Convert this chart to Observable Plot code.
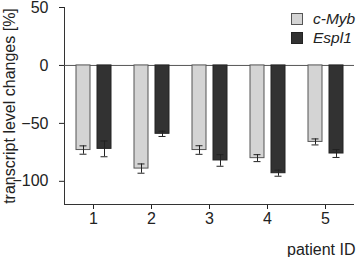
<!DOCTYPE html>
<html><head><meta charset="utf-8">
<script src="https://cdn.jsdelivr.net/npm/d3@7"></script>
<script src="https://cdn.jsdelivr.net/npm/@observablehq/plot@0.6"></script>
<style>
body{margin:0;background:#fff;}
#wrap{position:relative;width:358px;height:257px;font-family:"Liberation Sans",Arial,sans-serif;color:#222;}
.legend{position:absolute;left:291px;top:9px;font-size:15.5px;font-style:italic;}
.legend .row{display:flex;align-items:center;height:19px;}
.legend .sw{width:10px;height:10px;margin-right:10px;border:1px solid #666;}
</style></head><body><div id="wrap"></div>
<script>
const patients = [1, 2, 3, 4, 5];
const genes = ["c-Myb", "Espl1"];
const cMyb = [-73, -89, -73, -80, -66];
const cMybErr = [3.6, 4, 3.7, 3, 2.6];
const espl1 = [-72, -59, -82, -93, -76];
const espl1Err = [6.8, 2.3, 5, 2.6, 3.4];
const yTicks = [50, 0, -50, -100];
const geneFill = ["#d4d4d4", "#323232"];
const geneStroke = ["#555555", "#222222"];

const rows = [];
patients.forEach((p, i) => {
  rows.push({patient: p, gene: genes[0], value: cMyb[i], err: cMybErr[i]});
  rows.push({patient: p, gene: genes[1], value: espl1[i], err: espl1Err[i]});
});

const chart = Plot.plot({
  width: 358,
  height: 257,
  marginTop: 7,
  marginBottom: 53,
  marginLeft: 62,
  marginRight: 2,
  style: {fontSize: "16px", fontFamily: "Liberation Sans, Arial, sans-serif", color: "#222", background: "white"},
  fx: {domain: patients, padding: 0},
  x: {domain: genes, paddingInner: 0.34, paddingOuter: 0.49, axis: null},
  y: {domain: [-120, 50]},
  color: {domain: genes, range: geneFill},
  marks: [
    Plot.axisY({ticks: yTicks, tickSize: 5, tickPadding: 11, fontSize: 16, label: "transcript level changes [%]", labelAnchor: "center", labelOffset: 61, labelArrow: false}),
    Plot.axisFx({anchor: "bottom", tickSize: 5, tickPadding: 3, fontSize: 16, label: "patient ID", labelAnchor: "right", labelOffset: 50, labelArrow: false}),
    Plot.frame({anchor: "left", facetAnchor: "left", stroke: "#333"}),
    Plot.ruleY([0], {stroke: "#555", strokeWidth: 1}),
    Plot.ruleY([-120], {stroke: "#333", strokeWidth: 1}),
    Plot.barY(rows, {fx: "patient", x: "gene", y: "value", fill: "gene", stroke: (d) => geneStroke[genes.indexOf(d.gene)], strokeWidth: 1}),
    Plot.ruleX(rows, {fx: "patient", x: "gene", y1: (d) => d.value - d.err, y2: (d) => d.value + d.err, stroke: "#222", strokeWidth: 1}),
    Plot.tickY(rows, {fx: "patient", x: "gene", y: (d) => d.value - d.err, stroke: "#222", insetLeft: 3.5, insetRight: 3.5}),
    Plot.tickY(rows, {fx: "patient", x: "gene", y: (d) => d.value + d.err, stroke: "#222", insetLeft: 3.5, insetRight: 3.5})
  ]
});

const wrap = document.getElementById("wrap");
wrap.appendChild(chart);
const legend = document.createElement("div");
legend.className = "legend";
genes.forEach((g, i) => {
  const row = document.createElement("div");
  row.className = "row";
  const sw = document.createElement("span");
  sw.className = "sw";
  sw.style.background = geneFill[i];
  sw.style.borderColor = geneStroke[i];
  const t = document.createElement("span");
  t.textContent = g;
  row.appendChild(sw);
  row.appendChild(t);
  legend.appendChild(row);
});
wrap.appendChild(legend);
</script></body></html>
